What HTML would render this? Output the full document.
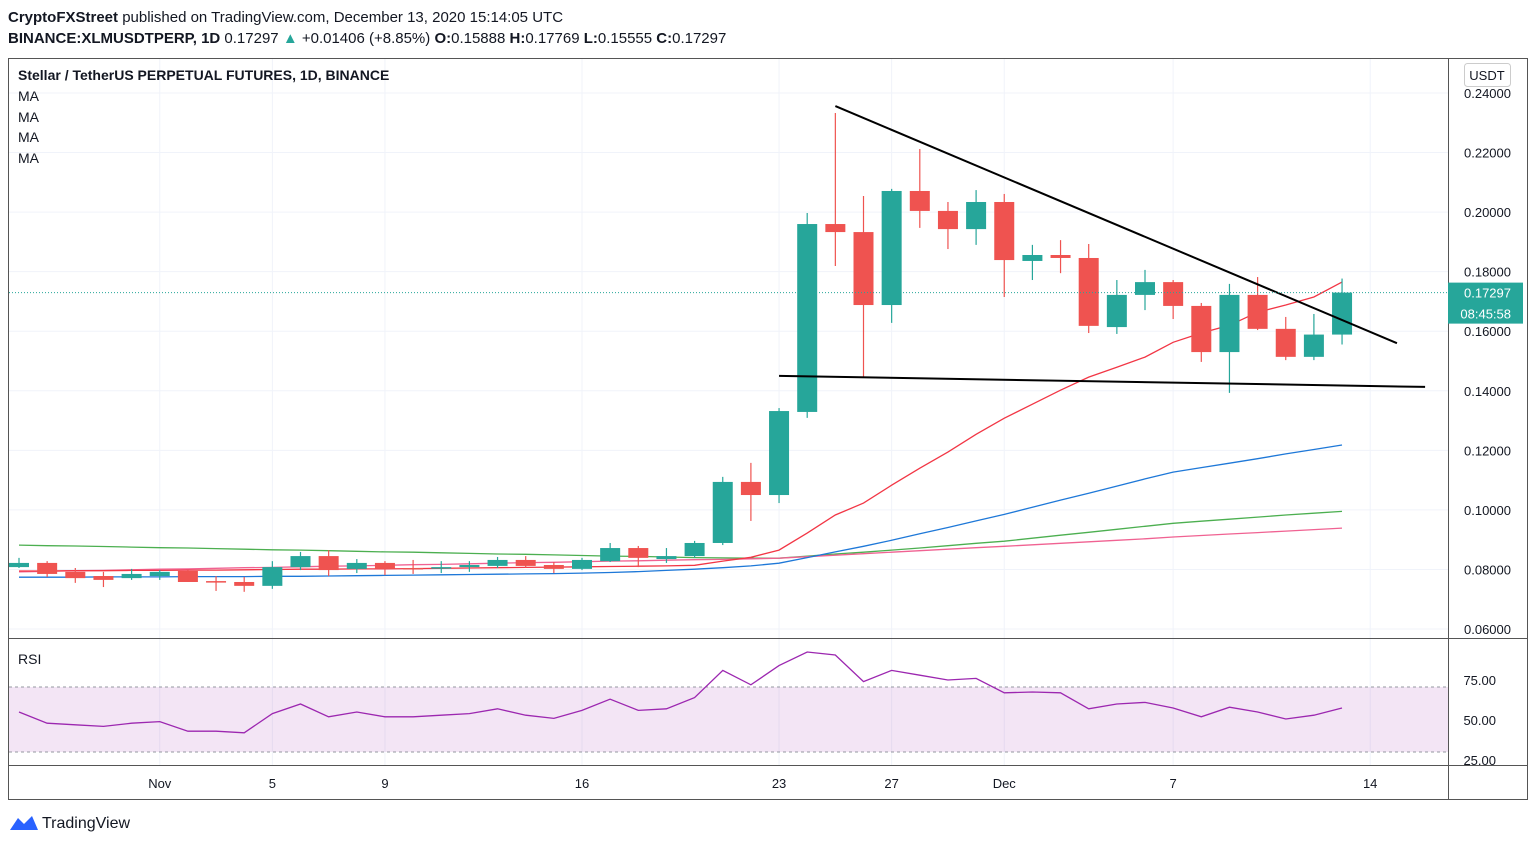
<!DOCTYPE html>
<html><head><meta charset="utf-8"><style>
body{margin:0;background:#fff;font-family:"Liberation Sans",Arial,sans-serif;}
svg text{font-family:"Liberation Sans",Arial,sans-serif;}
</style></head><body>
<svg id="c" width="1536" height="845" xmlns="http://www.w3.org/2000/svg">
<text x="8" y="22" font-size="15" fill="#131722"><tspan font-weight="bold">CryptoFXStreet</tspan> published on TradingView.com, December 13, 2020 15:14:05 UTC</text>
<text x="8" y="43" font-size="15" fill="#131722"><tspan font-weight="bold">BINANCE:XLMUSDTPERP, 1D</tspan> 0.17297 <tspan fill="#26a69a">▲</tspan> +0.01406 (+8.85%) <tspan font-weight="bold">O:</tspan>0.15888 <tspan font-weight="bold">H:</tspan>0.17769 <tspan font-weight="bold">L:</tspan>0.15555 <tspan font-weight="bold">C:</tspan>0.17297</text>
<rect x="8.5" y="58.5" width="1519" height="741" fill="#fff" stroke="#555"/>
<g id="grid"></g>
<rect x="9" y="687" width="1439" height="65" fill="#9c27b0" fill-opacity="0.12"/>
<line x1="9" y1="687" x2="1448" y2="687" stroke="#9598a1" stroke-dasharray="3,3"/>
<line x1="9" y1="752" x2="1448" y2="752" stroke="#9598a1" stroke-dasharray="3,3"/>
<g id="marks"></g>
<line x1="1448.5" y1="59" x2="1448.5" y2="799" stroke="#555"/>
<line x1="9" y1="638.5" x2="1527" y2="638.5" stroke="#555"/>
<line x1="9" y1="765.5" x2="1527" y2="765.5" stroke="#555"/>
<text x="18" y="80" font-size="14" font-weight="bold" fill="#131722">Stellar / TetherUS PERPETUAL FUTURES, 1D, BINANCE</text>
<text x="18" y="101" font-size="14" fill="#131722">MA</text>
<text x="18" y="122" font-size="14" fill="#131722">MA</text>
<text x="18" y="142" font-size="14" fill="#131722">MA</text>
<text x="18" y="163" font-size="14" fill="#131722">MA</text>
<text x="18" y="664" font-size="14" fill="#131722">RSI</text>
<rect x="1464.5" y="63.5" width="46" height="23" rx="3" fill="#fff" stroke="#ccc"/>
<text x="1487" y="80" font-size="13" fill="#131722" text-anchor="middle">USDT</text>
<g>
<path d="M10 830 l8 -12 l6 6 l8 -8 l6 14 z" fill="#2962ff"/>
<text x="42" y="828" font-size="16" fill="#131722">TradingView</text>
</g>
</svg>
<script>
const opens=[.0808,.0822,.0792,.0778,.0771,.0778,.0795,.0761,.0758,.0745,.0808,.0845,.0802,.0822,.0805,.0805,.0808,.0812,.0832,.0815,.0802,.0828,.0872,.0835,.0845,.0889,.1094,.1050,.1329,.1960,.1933,.1688,.2071,.2004,.1943,.2034,.1836,.1856,.1846,.1614,.1722,.1765,.1685,.1530,.1722,.1608,.1514,.15888];
const highs=[.0839,.0828,.0805,.0792,.0802,.0798,.0798,.0778,.0775,.0828,.0859,.0865,.0835,.0828,.0832,.0828,.0828,.0842,.0845,.0825,.0839,.0889,.0879,.0872,.0896,.1111,.1158,.1342,.1997,.2333,.2054,.2078,.2212,.2034,.2074,.2061,.1890,.1906,.1893,.1772,.1806,.1772,.1695,.1759,.1782,.1648,.1658,.17769];
const lows=[.0805,.0775,.0755,.0741,.0765,.0765,.0758,.0728,.0725,.0735,.0798,.0778,.0788,.0781,.0785,.0788,.0792,.0805,.0805,.0788,.0798,.0825,.0808,.0822,.0839,.0882,.0963,.1023,.1309,.1819,.1443,.1628,.1947,.1876,.1890,.1715,.1772,.1795,.1594,.1591,.1671,.1641,.1497,.1393,.1604,.1503,.1503,.15555];
const closes=[.0822,.0785,.0771,.0765,.0785,.0792,.0758,.0758,.0745,.0808,.0845,.0798,.0822,.0802,.0802,.0808,.0815,.0832,.0812,.0802,.0832,.0872,.0839,.0845,.0889,.1094,.1050,.1332,.1960,.1933,.1688,.2071,.2004,.1943,.2034,.1839,.1856,.1846,.1618,.1722,.1765,.1685,.1530,.1722,.1608,.1514,.15888,.17297];
const maRed=[.0795,.0795,.0796,.0796,.0797,.0797,.0798,.0798,.0799,.0800,.0801,.0801,.0802,.0802,.0803,.0804,.0805,.0806,.0807,.0808,.0809,.0810,.0811,.0812,.0814,.0828,.0841,.0865,.0922,.0983,.1023,.1083,.1140,.1194,.1254,.1308,.1355,.1402,.1446,.1479,.1513,.1563,.1594,.1620,.1664,.1688,.1715,.1765];
const maBlue=[.0774,.0774,.0774,.0775,.0775,.0775,.0776,.0776,.0776,.0777,.0777,.0778,.0779,.0780,.0781,.0782,.0783,.0784,.0785,.0786,.0788,.0790,.0793,.0797,.0801,.0806,.0812,.0821,.0840,.0859,.0878,.0898,.0920,.0941,.0963,.0985,.1009,.1033,.1056,.1080,.1104,.1127,.1142,.1157,.1172,.1188,.1203,.1218];
const maGreen=[.0882,.0880,.0879,.0877,.0875,.0873,.0872,.0870,.0868,.0866,.0865,.0863,.0861,.0859,.0858,.0856,.0854,.0852,.0851,.0849,.0847,.0845,.0844,.0842,.0840,.0839,.0838,.0838,.0845,.0852,.0858,.0865,.0872,.0880,.0888,.0895,.0905,.0915,.0925,.0935,.0945,.0955,.0962,.0969,.0976,.0983,.0989,.0995];
const maPink=[.0792,.0794,.0796,.0797,.0799,.0801,.0802,.0804,.0806,.0807,.0809,.0811,.0812,.0814,.0816,.0817,.0819,.0821,.0823,.0824,.0826,.0828,.0829,.0831,.0833,.0834,.0836,.0838,.0843,.0848,.0853,.0858,.0863,.0868,.0873,.0878,.0883,.0888,.0893,.0898,.0903,.0909,.0914,.0919,.0924,.0929,.0934,.0939];
const rsi=[55,48,47,46,48,49,43,43,42,54,60,52,55,52,52,53,54,57,53,51,56,63,56,57,64,81,72,84,92.5,90.6,74,81,78,75,76,67,67.5,67,57,60,61,57.5,52,58,55,50.6,53,57.5];
const trendUpper=[[29,.2356],[48.95,.1560]];
const trendLower=[[27,.1450],[49.95,.1413]];
const priceTicks=[0.24,0.22,0.20,0.18,0.16,0.14,0.12,0.10,0.08,0.06];
const rsiTicks=[75,50,25];
const dateLabels=["Nov","5","9","16","23","27","Dec","7","14"];
const dateIdx=[5,9,13,20,27,31,35,41,48];

const X=i=>19+i*28.15;
const Y=p=>93+(0.24-p)*2978;
const RY=r=>720-(r-50)*1.6;
const NS="http://www.w3.org/2000/svg";
function mk(tag,attrs,parent){const e=document.createElementNS(NS,tag);for(const k in attrs)e.setAttribute(k,attrs[k]);parent.appendChild(e);return e;}
const grid=document.getElementById('grid'),marks=document.getElementById('marks'),svg=document.getElementById('c');
priceTicks.forEach(p=>{
  const l=mk('line',{x1:9,x2:1448,y1:Y(p),y2:Y(p),stroke:'#f0f3fa'},grid);
  
  
  const t=mk('text',{x:1511,y:Y(p)+5,'font-size':13,'text-anchor':'end',fill:'#131722'},svg);
  t.textContent=p.toFixed(5);
  
  
});
rsiTicks.forEach(r=>{
  const t=mk('text',{x:1496,y:RY(r)+5,'font-size':13,'text-anchor':'end',fill:'#131722'},svg);
  t.textContent=r.toFixed(2);
  
  
});
dateLabels.forEach((d,k)=>{
  const x=X(dateIdx[k]);
  const l=mk('line',{x1:x,x2:x,y1:59,y2:765,stroke:'#f0f3fa'},grid);
  
  
  const t=mk('text',{x:x,y:788,'font-size':13,'text-anchor':'middle',fill:'#131722'},svg);
  t.textContent=d;
  
  
});
function line(arr,color,name){
  const pts=arr.map((v,i)=>X(i).toFixed(1)+','+Y(v).toFixed(1)).join(' ');
  const e=mk('polyline',{points:pts,fill:'none',stroke:color,'stroke-width':1.3},marks);
  
  
}
line(maGreen,'#4caf50','ma-green');
line(maPink,'#f06292','ma-pink');
line(maBlue,'#1e78d8','ma-blue');
line(maRed,'#f23645','ma-red');
opens.forEach((o,i)=>{
  const c=closes[i],up=c>=o,col=up?'#26a69a':'#ef5350',x=X(i);
  const w=mk('line',{x1:x,x2:x,y1:Y(highs[i]),y2:Y(lows[i]),stroke:col,'stroke-width':1.2},marks);
  
  
  const top=Y(Math.max(o,c)),h=Math.max(1.5,Math.abs(Y(o)-Y(c)));
  const b=mk('rect',{x:x-10,y:top,width:20,height:h,fill:col},marks);
  
  
});
[trendUpper,trendLower].forEach((t,k)=>{
  const e=mk('line',{x1:X(t[0][0]),y1:Y(t[0][1]),x2:X(t[1][0]),y2:Y(t[1][1]),stroke:'#000','stroke-width':2},marks);
  
  
});
const last=closes[closes.length-1];
const dl=mk('line',{x1:9,x2:1448,y1:Y(last),y2:Y(last),stroke:'#26a69a','stroke-dasharray':'1,2'},marks);


const rp=rsi.map((v,i)=>X(i).toFixed(1)+','+RY(v).toFixed(1)).join(' ');
const rl=mk('polyline',{points:rp,fill:'none',stroke:'#9c27b0','stroke-width':1.3},marks);


const lb=mk('rect',{x:1448,y:Y(last)-10,width:75,height:41,fill:'#26a69a'},svg);


const lt=mk('text',{x:1511,y:Y(last)+5,'font-size':13,'text-anchor':'end',fill:'#fff'},svg);
lt.textContent=last.toFixed(5);


const ct=mk('text',{x:1511,y:Y(last)+26,'font-size':13,'text-anchor':'end',fill:'#fff'},svg);
ct.textContent='08:45:58';


</script>
</body></html>
